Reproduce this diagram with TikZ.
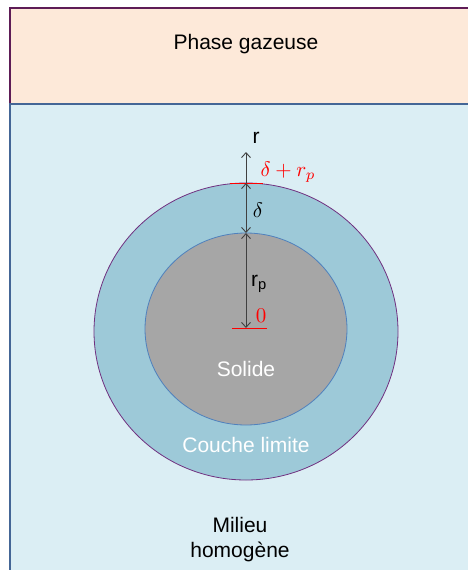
\documentclass[tikz,border=0pt]{standalone}
\usepackage{fontspec}
\setmainfont{Liberation Sans}
\usepackage{tikz}
\usetikzlibrary{positioning,arrows.meta}
\definecolor{GasFill}{RGB}{253,233,217}
\definecolor{GasLine}{RGB}{94,28,86}
\definecolor{BulkFill}{RGB}{219,238,244}
\definecolor{BulkLine}{RGB}{68,102,150}
\definecolor{LayerFill}{RGB}{157,201,216}
\definecolor{LayerLine}{RGB}{112,48,128}
\definecolor{SolidFill}{RGB}{166,166,166}
\definecolor{SolidLine}{RGB}{79,129,189}
\definecolor{AxisGray}{RGB}{64,64,64}
\newcommand{\bigmath}[1]{{\normalsize\scalebox{2.1}{$#1$}}}

\begin{document}
\begin{tikzpicture}[
    x=1pt, y=-1pt,
    lbl/.style={font=\fontsize{21}{25}\selectfont, text=black, inner sep=0pt},
    whitelbl/.style={lbl, text=white},
    redlbl/.style={lbl, text=red},
    dim/.style={AxisGray, line width=0.9pt, {Straight Barb[length=5pt,width=9pt]}-{Straight Barb[length=5pt,width=9pt]}},
    tick/.style={red, line width=0.9pt}
]
\useasboundingbox (0,0) rectangle (468,570);
\begin{scope}
\clip (0,0) rectangle (468,570);
% phases
\fill[GasFill] (10,8) rectangle (480,104);
\draw[GasLine, line width=2pt] (480,8) -- (10,8) -- (10,104);
\fill[BulkFill] (10,104) rectangle (480,590);
\draw[BulkLine, line width=2pt] (480,104) -- (10,104) -- (10,590);
\end{scope}
% particle
\draw[LayerLine, fill=LayerFill, line width=0.8pt] (246,331.5) ellipse [x radius=152, y radius=148.5];
\draw[SolidLine, fill=SolidFill, line width=0.8pt] (246,329) ellipse [x radius=101, y radius=96];
% axis points
\coordinate (rtip) at (246,152);
\coordinate (surf) at (246,183);
\coordinate (core) at (246,233);
\coordinate (centre) at (246,328);
\draw[tick] (230,183) -- (263,183);
\draw[tick] (232,328) -- (267,328);
\draw[AxisGray, line width=0.9pt, -{Straight Barb[length=5pt,width=9pt]}] (surf) -- (rtip);
\draw[dim] (surf) -- (core);
\draw[dim] (core) -- (centre);
% labels
\node[lbl] (gas) at (246,44) {Phase gazeuse};
\node[lbl] (r) at (256,138) {r};
\node[redlbl] (drp) at (288,172) {\bigmath{\delta+r_p}};
\node[lbl] (delta) at (258,210) {\bigmath{\delta}};
\node[lbl] (rp) at (259,284) {r\textsubscript{p}};
\node[redlbl] (zero) at (261,316) {\bigmath{0}};
\node[whitelbl] (solid) at (246,369) {Solide};
\node[whitelbl] (layer) at (246,445) {Couche limite};
\node[lbl, align=center] (bulk) at (240,540) {Milieu\\homogène};
\end{tikzpicture}
\end{document}
